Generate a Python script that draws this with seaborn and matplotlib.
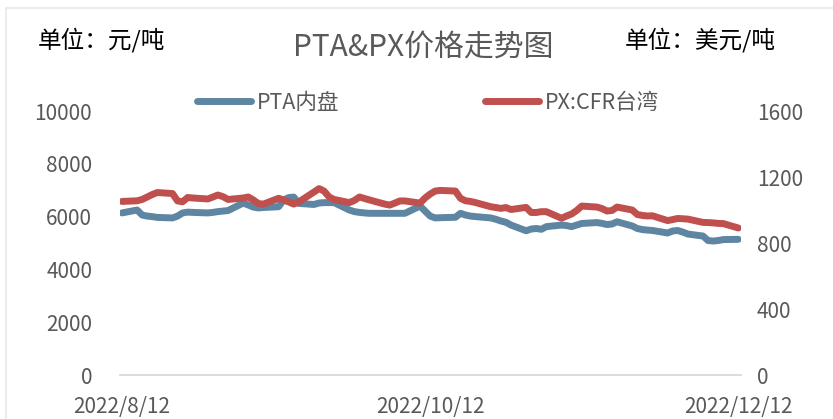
import matplotlib
matplotlib.use("Agg")
import matplotlib.pyplot as plt
from matplotlib.patches import Rectangle
import pandas as pd
import seaborn as sns

# 交易日 2022/8/12 - 2022/12/12
dates = pd.bdate_range("2022-08-12", "2022-12-12")

# PTA内盘 (元/吨, 左轴)
pta = [6140,
       6250, 6060, 6020, 6000, 5970,
       5950, 6020, 6140, 6170, 6160,
       6140, 6160, 6190, 6210, 6230,
       6515, 6440, 6360, 6330, 6345,
       6375, 6630, 6720, 6740, 6500,
       6460, 6515, 6530, 6530, 6530,
       6250, 6190, 6160, 6140, 6125,
       6125, 6125, 6125, 6125, 6125,
       6400, 6210, 6020, 5950, 5960,
       5975, 6125, 6060, 6020, 6000,
       5950, 5900, 5835, 5785, 5680,
       5465, 5530, 5550, 5520, 5620,
       5680, 5660, 5620, 5680, 5740,
       5775, 5745, 5700, 5720, 5805,
       5645, 5550, 5510, 5490, 5475,
       5380, 5455, 5475, 5415, 5340,
       5265, 5095, 5075, 5095, 5130,
       5140]

# PX:CFR台湾 (美元/吨, 右轴)
px = [1052,
      1056, 1064, 1079, 1094, 1106,
      1100, 1055, 1050, 1076, 1073,
      1067, 1079, 1091, 1081, 1064,
      1073, 1079, 1061, 1039, 1036,
      1071, 1061, 1049, 1036, 1049,
      1109, 1130, 1115, 1079, 1064,
      1045, 1058, 1079, 1070, 1061,
      1036, 1030, 1042, 1055, 1055,
      1042, 1073, 1097, 1115, 1119,
      1115, 1071, 1056, 1052, 1045,
      1020, 1015, 1010, 1015, 1003,
      1016, 985, 985, 990, 990,
      950, 964, 976, 997, 1024,
      1018, 1009, 994, 997, 1018,
      1000, 973, 967, 964, 965,
      936, 942, 949, 947, 945,
      925, 924, 922, 919, 918,
      891]

x_ticks = ["2022-08-12", "2022-10-12", "2022-12-12"]
x_labels = ["2022/8/12", "2022/10/12", "2022/12/12"]
left_ticks = [0, 2000, 4000, 6000, 8000, 10000]
right_ticks = [0, 400, 800, 1200, 1600]

BLUE = "#5E86A3"
RED = "#C0504D"
GRAY = "#595959"

sns.set_theme(style="white")
plt.rcParams["font.family"] = ["Noto Sans CJK SC", "DejaVu Sans"]

df = pd.DataFrame({"date": dates, "pta": pta, "px": px})

fig = plt.figure(figsize=(8.33, 4.19), dpi=100)
ax = fig.add_axes([0.144, 0.105, 0.746, 0.63])
ax2 = ax.twinx()

line_kw = dict(linewidth=5, solid_capstyle="round", solid_joinstyle="round", legend=False)
sns.lineplot(data=df, x="date", y="pta", ax=ax, color=BLUE, label="PTA内盘", **line_kw)
sns.lineplot(data=df, x="date", y="px", ax=ax2, color=RED, label="PX:CFR台湾", **line_kw)

ax.set_ylim(0, 10000)
ax2.set_ylim(0, 1600)
ax.set_xlim(pd.Timestamp("2022-08-12") - pd.Timedelta(days=0.4),
            pd.Timestamp("2022-12-12") + pd.Timedelta(days=0.6))
ax.set_yticks(left_ticks)
ax2.set_yticks(right_ticks)
ax.set_xticks(pd.to_datetime(x_ticks))
ax.set_xticklabels(x_labels)
for a in (ax, ax2):
    a.set_xlabel("")
    a.set_ylabel("")
    for s in a.spines.values():
        s.set_visible(False)
    a.grid(False)
ax.spines["bottom"].set_visible(True)
ax.spines["bottom"].set_color("#D9D9D9")
ax.spines["bottom"].set_linewidth(1.3)

ax.tick_params(axis="y", length=0, pad=20, labelsize=15, labelcolor=GRAY)
ax2.tick_params(axis="y", length=0, pad=11, labelsize=15, labelcolor=GRAY)
ax.tick_params(axis="x", length=0, pad=15, labelsize=15, labelcolor=GRAY)

fig.text(423 / 833, 1 - 47 / 419, "PTA&PX价格走势图", ha="center", va="center",
         fontsize=21.5, color=GRAY)
fig.text(38 / 833, 1 - 40 / 419, "单位：元/吨", ha="left", va="center",
         fontsize=17, color="black")
fig.text(625 / 833, 1 - 40 / 419, "单位：美元/吨", ha="left", va="center",
         fontsize=17, color="black")

h1, l1 = ax.get_legend_handles_labels()
h2, l2 = ax2.get_legend_handles_labels()
leg = fig.legend(h1 + h2, l1 + l2, loc="center", bbox_to_anchor=(428 / 833, 1 - 103 / 419),
                 ncol=2, frameon=False, fontsize=15.5, handlelength=2.5,
                 handletextpad=0.25, columnspacing=6.8)
for t in leg.get_texts():
    t.set_color(GRAY)

fig.patches.append(Rectangle((6 / 833, -0.1), 1.2, 1 - 8 / 419 + 0.1, transform=fig.transFigure,
                             fill=False, edgecolor="#E8E8E8", linewidth=1.2))

plt.savefig("out.png", dpi=100)
plt.close(fig)
